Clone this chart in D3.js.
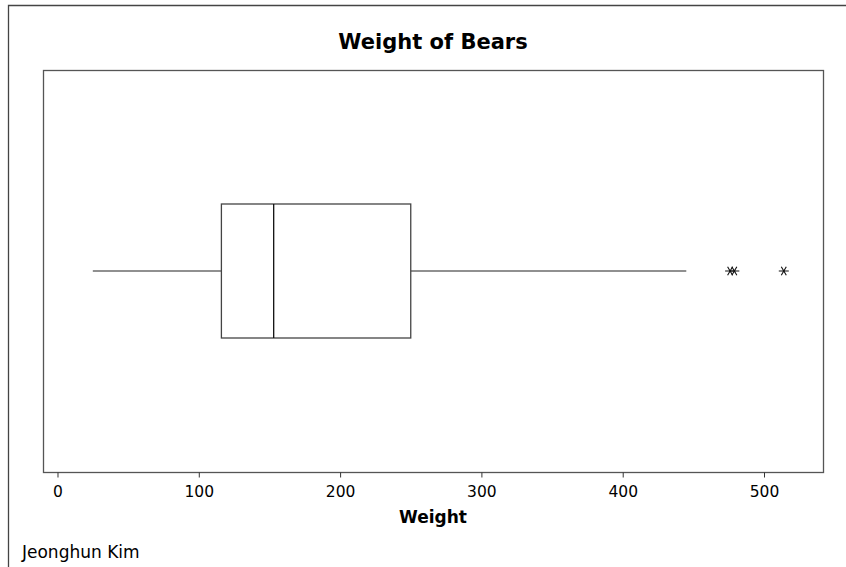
<!DOCTYPE html>
<html>
<head>
<meta charset="utf-8">
<script src="https://cdn.jsdelivr.net/npm/d3@7"></script>
<style>
  body { margin: 0; background: #fff; }
  text { font-family: "DejaVu Sans", Verdana, sans-serif; fill: #000; }
</style>
</head>
<body>
<svg id="chart" width="846" height="567"></svg>
<script>
// box plot summary for bear weights
const stats = { min: 25, q1: 116, median: 153, q3: 250, whiskerHigh: 445 };
const outliers = [476, 479, 514];
const xTicks = [0, 100, 200, 300, 400, 500];
const title = "Weight of Bears";
const xLabel = "Weight";
const author = "Jeonghun Kim";

const svg = d3.select("#chart");
const plot = { left: 43.5, top: 70.5, right: 823.5, bottom: 472.5 };

const x = d3.scaleLinear().domain([-9.9, 542.1]).range([plot.left, plot.right]);
const yMid = 271;
const boxHalf = 67;

// outer frame
svg.append("path")
  .attr("d", `M8.5,567 V5.5 H846`)
  .attr("fill", "none")
  .attr("stroke", "#444")
  .attr("stroke-width", 1.3);

// plot frame
svg.append("rect")
  .attr("x", plot.left).attr("y", plot.top)
  .attr("width", plot.right - plot.left).attr("height", plot.bottom - plot.top)
  .attr("fill", "none")
  .attr("stroke", "#555")
  .attr("stroke-width", 1.3);

// axis
const axis = d3.axisBottom(x).tickValues(xTicks).tickSize(5).tickPadding(8);
const g = svg.append("g").attr("transform", `translate(0,${plot.bottom})`).call(axis);
g.select(".domain").remove();
g.selectAll("line").attr("stroke", "#333");
g.selectAll("text")
  .style("font-family", "DejaVu Sans, Verdana, sans-serif")
  .style("font-size", "15.5px")
  .attr("fill", "#000");

// whiskers
svg.append("line")
  .attr("x1", x(stats.min)).attr("x2", x(stats.q1))
  .attr("y1", yMid).attr("y2", yMid)
  .attr("stroke", "#222").attr("stroke-width", 1.2);
svg.append("line")
  .attr("x1", x(stats.q3)).attr("x2", x(stats.whiskerHigh))
  .attr("y1", yMid).attr("y2", yMid)
  .attr("stroke", "#222").attr("stroke-width", 1.2);

// box
svg.append("rect")
  .attr("x", x(stats.q1)).attr("y", yMid - boxHalf)
  .attr("width", x(stats.q3) - x(stats.q1)).attr("height", boxHalf * 2)
  .attr("fill", "none")
  .attr("stroke", "#444").attr("stroke-width", 1.3);
svg.append("line")
  .attr("x1", x(stats.median)).attr("x2", x(stats.median))
  .attr("y1", yMid - boxHalf).attr("y2", yMid + boxHalf)
  .attr("stroke", "#111").attr("stroke-width", 1.3);

// outliers as asterisks
const star = d3.symbol().type(d3.symbolAsterisk).size(70);
svg.selectAll(".outlier")
  .data(outliers)
  .join("path")
  .attr("class", "outlier")
  .attr("d", star)
  .attr("transform", d => `translate(${x(d)},${yMid}) rotate(90)`)
  .attr("fill", "none")
  .attr("stroke", "#111")
  .attr("stroke-width", 1.1);

// texts
svg.append("text")
  .attr("x", 433).attr("y", 49)
  .attr("text-anchor", "middle")
  .style("font-size", "21px").style("font-weight", "bold")
  .text(title);

svg.append("text")
  .attr("x", 433).attr("y", 523)
  .attr("text-anchor", "middle")
  .style("font-size", "17px").style("font-weight", "bold")
  .text(xLabel);

svg.append("text")
  .attr("x", 22).attr("y", 558)
  .style("font-size", "17px")
  .text(author);
</script>
</body>
</html>
